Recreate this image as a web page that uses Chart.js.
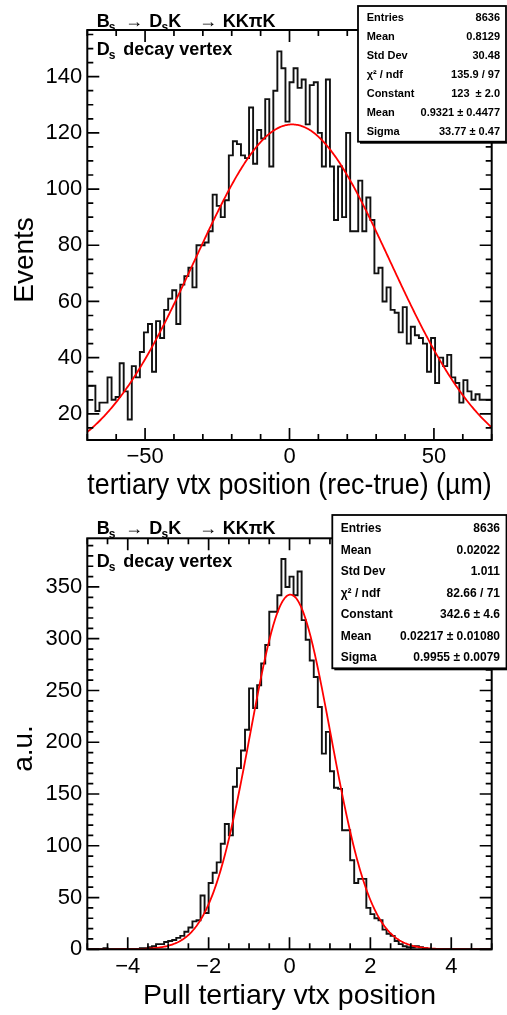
<!DOCTYPE html>
<html>
<head>
<meta charset="utf-8">
<script src="https://cdn.jsdelivr.net/npm/chart.js@4.4.1/dist/chart.umd.min.js"></script>
<style>
html,body{margin:0;padding:0;background:#fff;}
#wrap{position:relative;width:507px;height:1015px;overflow:hidden;background:#fff;}
canvas{position:absolute;left:0;}
#c1{top:0;}
#c2{top:507px;}
</style>
</head>
<body>
<div id="wrap">
<canvas id="c1" width="507" height="507"></canvas>
<canvas id="c2" width="507" height="508"></canvas>
</div>
<script>
// ---------------- DATA ----------------
// Top histogram: tertiary vertex position (rec-true) in um, 100 bins from -70 to 70
const topRange = [-70, 70];
const topNBins = 100;
const topCounts = [
  20,30,30,21,24,24,33,25,26,38,
  28,18,37,33,42,49,52,35,53,47,
  57,61,64,52,66,69,72,65,80,80,
  81,85,98,94,90,96,112,117,116,112,
  111,129,109,121,118,132,108,135,149,143,
  124,138,143,136,139,123,137,138,120,108,
  139,108,89,108,90,120,85,85,103,85,
  97,89,70,72,60,65,57,56,49,58,
  45,51,48,47,45,35,47,31,40,37,
  41,33,31,24,32,28,25,27,25,25
];
const topFit = { constant: 123, mean: 0.9321, sigma: 33.77 };
const topXTicks = [-50, 0, 50];
const topYTicks = [20, 40, 60, 80, 100, 120, 140];
const topYRange = [10.7, 156.6];
const topStatsLabels = ['Entries', 'Mean', 'Std Dev', 'χ² / ndf', 'Constant', 'Mean', 'Sigma'];
const topStatsValues = ['8636', '0.8129', '30.48', '135.9 / 97', '123  ± 2.0', '0.9321 ± 0.4477', '33.77 ± 0.47'];

// Bottom histogram: pull of tertiary vertex position, 100 bins from -5 to 5
const botRange = [-5, 5];
const botNBins = 100;
const botCounts = [
  0,0,0,0,0,1,0,0,0,0,
  0,0,0,0,1,1,2,3,5,5,
  7,8,9,11,13,17,21,27,28,52,
  35,64,74,84,102,121,110,157,175,192,
  212,252,233,255,276,294,326,326,342,377,
  350,360,342,365,318,299,279,263,234,189,
  210,172,156,155,115,115,86,64,68,68,
  40,34,30,28,19,15,13,8,5,3,
  2,2,3,2,1,0,0,0,0,0,
  0,0,0,0,0,0,0,0,0,0
];
const botFit = { constant: 342.6, mean: 0.02217, sigma: 0.9955 };
const botXTicks = [-4, -2, 0, 2, 4];
const botYTicks = [0, 50, 100, 150, 200, 250, 300, 350];
const botYRange = [0, 397];
const botStatsLabels = ['Entries', 'Mean', 'Std Dev', 'χ² / ndf', 'Constant', 'Mean', 'Sigma'];
const botStatsValues = ['8636', '0.02022', '1.011', '82.66 / 71', '342.6 ± 4.6', '0.02217 ± 0.01080', '0.9955 ± 0.0079'];

// ---------------- HELPERS ----------------
const FONT = "'Liberation Sans', Arial, Helvetica, sans-serif";

function histPoints(range, nbins, counts) {
  const w = (range[1] - range[0]) / nbins;
  const pts = counts.map((c, i) => ({ x: range[0] + i * w, y: c }));
  pts.push({ x: range[1], y: counts[counts.length - 1] });
  return pts;
}
// Fitted Gaussian, evaluated from the fit parameters quoted in the stats box
function fitPoints(range, fit) {
  const pts = [];
  const n = 400;
  for (let i = 0; i <= n; i++) {
    const x = range[0] + (range[1] - range[0]) * i / n;
    const z = (x - fit.mean) / fit.sigma;
    pts.push({ x: x, y: fit.constant * Math.exp(-0.5 * z * z) });
  }
  return pts;
}
function fmtNum(v) { return v < 0 ? '\u2212' + Math.abs(v) : String(v); }

const decorPlugin = {
  id: 'decor',
  afterDraw(chart, args, o) {
    const ctx = chart.ctx;
    const { left, right, top, bottom } = chart.chartArea;
    const xs = chart.scales.x, ys = chart.scales.y;
    ctx.save();
    ctx.strokeStyle = '#000';
    ctx.lineWidth = 1.7;
    ctx.beginPath();
    // x ticks (bottom + top), inward
    const xr = Math.round(o.xMajor / o.xMinor);
    for (let k = Math.ceil(xs.min / o.xMinor - 1e-9); k <= Math.floor(xs.max / o.xMinor + 1e-9); k++) {
      const px = xs.getPixelForValue(k * o.xMinor);
      const len = (k % xr === 0) ? 12 : 6;
      ctx.moveTo(px, bottom); ctx.lineTo(px, bottom - len);
      ctx.moveTo(px, top); ctx.lineTo(px, top + len);
    }
    const yr = Math.round(o.yMajor / o.yMinor);
    for (let k = Math.ceil(ys.min / o.yMinor - 1e-9); k <= Math.floor(ys.max / o.yMinor + 1e-9); k++) {
      const py = ys.getPixelForValue(k * o.yMinor);
      const len = (k % yr === 0) ? 12 : 6;
      ctx.moveTo(left, py); ctx.lineTo(left + len, py);
      ctx.moveTo(right, py); ctx.lineTo(right - len, py);
    }
    ctx.stroke();
    ctx.lineWidth = 2;
    ctx.strokeRect(left, top, right - left, bottom - top);

    // header & sub-header (rich text with subscripts)
    ctx.fillStyle = '#000';
    ctx.textBaseline = 'alphabetic';
    ctx.textAlign = 'left';
    const drawSegs = (segs, baseY) => {
      segs.forEach(s => {
        ctx.font = 'bold ' + (s.sub ? 12 : 18) + 'px ' + FONT;
        ctx.fillText(s.t, s.x, baseY + (s.sub ? 4 : 0));
      });
    };
    drawSegs(o.header, o.headerY);
    drawSegs(o.sub, o.subY);

    // y axis title (rotated)
    ctx.save();
    ctx.font = '28px ' + FONT;
    ctx.translate(o.yTitleX, o.yTitleY);
    ctx.rotate(-Math.PI / 2);
    ctx.textAlign = 'center';
    ctx.textBaseline = 'alphabetic';
    ctx.fillText(o.yTitle, 0, 0);
    ctx.restore();

    // stats box
    const st = o.stats;
    ctx.fillStyle = '#fff';
    ctx.fillRect(st.x0, st.y0, st.x1 - st.x0, st.y1 - st.y0);
    ctx.lineWidth = 1.8;
    ctx.strokeRect(st.x0, st.y0, st.x1 - st.x0, st.y1 - st.y0);
    ctx.fillStyle = '#000';
    ctx.fillRect(st.x0 + 2, st.y1, st.x1 - st.x0, 2);
    ctx.font = 'bold ' + st.size + 'px ' + FONT;
    ctx.textBaseline = 'middle';
    st.labels.forEach((lab, i) => {
      const y = st.rowY0 + i * st.rowDY;
      ctx.textAlign = 'left';
      ctx.fillText(lab, st.labelX, y);
      ctx.textAlign = 'right';
      ctx.fillText(st.values[i], st.valueX, y);
    });
    ctx.restore();
  }
};

function makeChart(id, c) {
  return new Chart(document.getElementById(id), {
    type: 'line',
    data: {
      datasets: [
        { label: 'fit', data: fitPoints(c.range, c.fit), borderColor: '#ff0000', borderWidth: 1.8,
          pointRadius: 0, fill: false, tension: 0, order: 0 },
        { label: 'hist', data: histPoints(c.range, c.nbins, c.counts), stepped: 'after', borderColor: '#111',
          borderWidth: 1.9, pointRadius: 0, fill: false, order: 1 }
      ]
    },
    options: {
      responsive: false, animation: false, devicePixelRatio: 1,
      layout: { padding: { left: 0, right: 15.3, top: c.padTop, bottom: 0 } },
      plugins: { legend: { display: false }, tooltip: { enabled: false }, decor: c.decor },
      scales: {
        x: {
          type: 'linear', min: c.range[0], max: c.range[1],
          afterBuildTicks: s => { s.ticks = c.xTicks.map(v => ({ value: v })); },
          afterFit: s => { s.height = c.xHeight; },
          grid: { display: false, drawTicks: false }, border: { display: false },
          ticks: { font: { family: FONT, size: 22 }, color: '#000', padding: 4, maxRotation: 0, autoSkip: false, callback: v => fmtNum(v) },
          title: { display: true, text: c.xTitle, align: c.xTitleAlign, color: '#000', font: { family: FONT, size: c.xTitleSize }, padding: { top: 0, bottom: c.xTitlePad } }
        },
        y: {
          type: 'linear', min: c.yRange[0], max: c.yRange[1],
          afterBuildTicks: s => { s.ticks = c.yTicks.map(v => ({ value: v })); },
          afterFit: s => { s.width = 87.3; },
          grid: { display: false, drawTicks: false }, border: { display: false },
          ticks: { font: { family: FONT, size: 22 }, color: '#000', padding: 5, autoSkip: false, callback: v => fmtNum(v) }
        }
      }
    },
    plugins: [decorPlugin]
  });
}

const headerSegs = [
  { t: 'B', x: 96.7 }, { t: 's', x: 108.8, sub: true }, { t: '→', x: 125 },
  { t: 'D', x: 149.3 }, { t: 's', x: 161.5, sub: true }, { t: 'K', x: 168.3 },
  { t: '→', x: 199 }, { t: 'KKπK', x: 222.7 }
];
const subSegs = [ { t: 'D', x: 96.7 }, { t: 's', x: 108.8, sub: true }, { t: 'decay vertex', x: 123.3 } ];

makeChart('c1', {
  range: topRange, nbins: topNBins, counts: topCounts, fit: topFit,
  xTicks: topXTicks, yTicks: topYTicks, yRange: topYRange,
  padTop: 30, xHeight: 67, xTitle: 'tertiary vtx position (rec-true) (µm)', xTitleAlign: 'end', xTitlePad: 4, xTitleSize: 29,
  decor: {
    xMinor: 10, xMajor: 50, yMinor: 5, yMajor: 20,
    header: headerSegs, headerY: 26.7, sub: subSegs, subY: 55,
    yTitle: 'Events', yTitleX: 33.3, yTitleY: 260,
    stats: { x0: 358, y0: 6, x1: 506, y1: 141.7, rowY0: 17.5, rowDY: 19, labelX: 366.7, valueX: 500, size: 11,
             labels: topStatsLabels, values: topStatsValues }
  }
});

makeChart('c2', {
  range: botRange, nbins: botNBins, counts: botCounts, fit: botFit,
  xTicks: botXTicks, yTicks: botYTicks, yRange: botYRange,
  padTop: 31.3, xHeight: 65.7, xTitle: 'Pull tertiary vtx position', xTitleAlign: 'center', xTitlePad: 2, xTitleSize: 28.5,
  decor: {
    xMinor: 0.5, xMajor: 2, yMinor: 10, yMajor: 50,
    header: headerSegs, headerY: 27.3, sub: subSegs, subY: 59.7,
    yTitle: 'a.u.', yTitleX: 32, yTitleY: 241.5,
    stats: { x0: 332.3, y0: 8, x1: 506.5, y1: 161.3, rowY0: 22, rowDY: 21.45, labelX: 340.7, valueX: 500, size: 12,
             labels: botStatsLabels, values: botStatsValues }
  }
});
</script>
</body>
</html>
